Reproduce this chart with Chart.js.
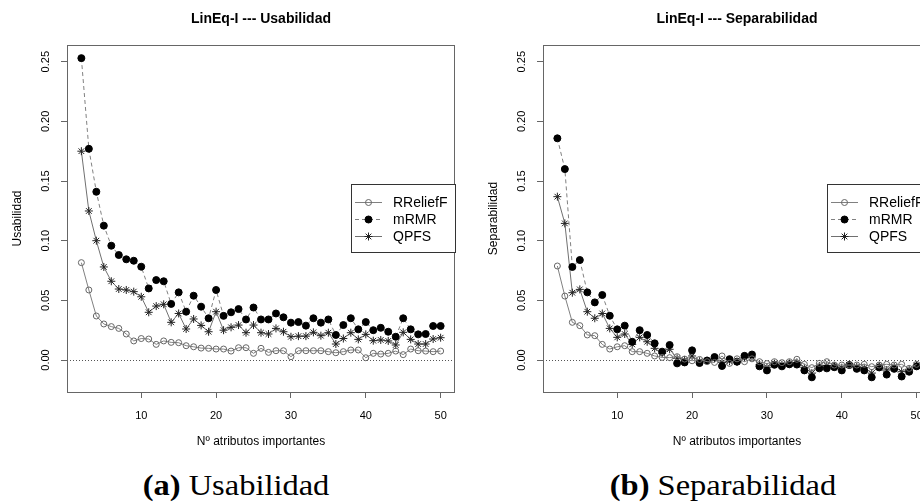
<!DOCTYPE html>
<html>
<head>
<meta charset="utf-8">
<script src="https://cdn.jsdelivr.net/npm/chart.js@4.4.0/dist/chart.umd.min.js"></script>
<style>
html, body { margin: 0; padding: 0; background: #fff; }
#wrap { position: relative; width: 920px; height: 504px; overflow: hidden; }
canvas { position: absolute; top: 0; }
#c1 { left: 0; }
#c2 { left: 476px; }
.cap { position: absolute; top: 471px; font-family: "Liberation Serif", serif; font-size: 29px; line-height: 29px;
       white-space: nowrap; color: #000; transform: translateX(-50%) scaleX(1.12); }
</style>
</head>
<body>
<div id="wrap">
  <canvas id="c1" width="476" height="460"></canvas>
  <canvas id="c2" width="476" height="460"></canvas>
  <div class="cap" style="left:236px"><b>(a)</b> Usabilidad</div>
  <div class="cap" style="left:723px"><b>(b)</b> Separabilidad</div>
</div>
<script>
// numero de atributos importantes
const xs = [2, 3, 4, 5, 6, 7, 8, 9, 10, 11, 12, 13, 14, 15, 16, 17, 18, 19, 20, 21, 22, 23, 24, 25, 26,
            27, 28, 29, 30, 31, 32, 33, 34, 35, 36, 37, 38, 39, 40, 41, 42, 43, 44, 45, 46, 47, 48, 49, 50];

const seriesNames = ['RReliefF', 'mRMR', 'QPFS'];
const xTicks = [10, 20, 30, 40, 50];
const yTicks = [0, 0.05, 0.10, 0.15, 0.20, 0.25];
const yTickLabels = ['0.00', '0.05', '0.10', '0.15', '0.20', '0.25'];

// (a) Usabilidad
const usaRRelief = [0.0816, 0.0587, 0.0369, 0.0302, 0.0280, 0.0265, 0.0218, 0.0160, 0.0180, 0.0176,
  0.0131, 0.0160, 0.0148, 0.0145, 0.0120, 0.0111, 0.0100, 0.0098, 0.0092, 0.0092, 0.0075, 0.0103,
  0.0103, 0.0056, 0.0098, 0.0064, 0.0078, 0.0078, 0.0028, 0.0078, 0.0078, 0.0078, 0.0078, 0.0070,
  0.0061, 0.0070, 0.0084, 0.0084, 0.0019, 0.0056, 0.0050, 0.0056, 0.0075, 0.0045, 0.0092, 0.0078,
  0.0075, 0.0070, 0.0075];
const usaMRMR = [0.253, 0.177, 0.141, 0.1126, 0.0958, 0.0880, 0.0844, 0.0832, 0.0782, 0.0600,
  0.0670, 0.0660, 0.0470, 0.0567, 0.0405, 0.0539, 0.0447, 0.0350, 0.0587, 0.0370, 0.0400, 0.0427,
  0.0340, 0.0440, 0.0340, 0.0340, 0.0390, 0.0358, 0.0313, 0.0318, 0.0288, 0.0350, 0.0313, 0.0340,
  0.0210, 0.0293, 0.0350, 0.0257, 0.0318, 0.0250, 0.0270, 0.0237, 0.0195, 0.0350, 0.0257, 0.0215,
  0.0218, 0.0285, 0.0285];
const usaQPFS = [0.175, 0.1249, 0.1000, 0.0780, 0.0660, 0.0595, 0.0587, 0.0573, 0.0530, 0.0400,
  0.0452, 0.0467, 0.0316, 0.0390, 0.0260, 0.0344, 0.0290, 0.0237, 0.0405, 0.0250, 0.0274, 0.0293,
  0.0229, 0.0293, 0.0229, 0.0218, 0.0265, 0.0237, 0.0195, 0.0200, 0.0200, 0.0232, 0.0204, 0.0229,
  0.0134, 0.0180, 0.0229, 0.0173, 0.0215, 0.0162, 0.0168, 0.0160, 0.0126, 0.0232, 0.0173, 0.0134,
  0.0134, 0.0176, 0.0187];

// (b) Separabilidad
const sepRRelief = [0.0788, 0.0536, 0.0316, 0.0288, 0.0210, 0.0204, 0.0131, 0.0092, 0.0111, 0.0120,
  0.0070, 0.0070, 0.0056, 0.0034, 0.0022, 0.0020, 0.0028, 0.0008, -0.0006, 0.0005, -0.0014, -0.0020,
  0.0034, -0.0028, 0.0010, -0.0014, 0.0010, -0.0014, -0.0030, -0.0014, -0.0022, -0.0014, 0.0006,
  -0.0036, -0.0064, -0.0028, -0.0014, -0.0042, -0.0042, -0.0042, -0.0042, -0.0036, -0.0056, -0.0042,
  -0.0036, -0.0042, -0.0036, -0.0070, -0.0036];
const sepMRMR = [0.1858, 0.1600, 0.0780, 0.0838, 0.0567, 0.0483, 0.0545, 0.0371, 0.0257, 0.0288,
  0.0153, 0.0250, 0.0210, 0.0140, 0.0070, 0.0126, -0.0028, -0.0020, 0.0081, -0.0025, -0.0004, 0.0025,
  -0.0050, 0.0007, -0.0014, 0.0035, 0.0046, -0.0053, -0.0087, -0.0040, -0.0053, -0.0036, -0.0038,
  -0.0087, -0.0145, -0.0070, -0.0070, -0.0060, -0.0087, -0.0042, -0.0074, -0.0087, -0.0145, -0.0062,
  -0.0122, -0.0074, -0.0138, -0.0098, -0.0053];
const sepQPFS = [0.1369, 0.1145, 0.0564, 0.0592, 0.0405, 0.0350, 0.0390, 0.0265, 0.0190, 0.0218,
  0.0131, 0.0190, 0.0153, 0.0098, 0.0056, 0.0090, 0.0014, 0.0000, 0.0034, -0.0010, -0.0008, 0.0014,
  -0.0020, -0.0010, -0.0014, 0.0020, 0.0025, -0.0040, -0.0060, -0.0030, -0.0040, -0.0028, -0.0020,
  -0.0064, -0.0110, -0.0050, -0.0045, -0.0050, -0.0064, -0.0040, -0.0056, -0.0064, -0.0110, -0.0050,
  -0.0084, -0.0056, -0.0098, -0.0080, -0.0045];

const SANS = '"Liberation Sans", Arial, sans-serif';

function pts(vals) {
  return xs.map((x, i) => ({ x: x, y: vals[i] }));
}

function drawMarker(ctx, ds, x, y) {
  ctx.save();
  ctx.lineWidth = ds.pointBorderWidth;
  ctx.strokeStyle = ds.pointBorderColor;
  ctx.fillStyle = ds.pointBackgroundColor;
  const r = ds.pointRadius;
  ctx.beginPath();
  if (ds.pointStyle === 'star') {
    const d = r * Math.SQRT1_2;
    ctx.moveTo(x - r, y); ctx.lineTo(x + r, y);
    ctx.moveTo(x, y - r); ctx.lineTo(x, y + r);
    ctx.moveTo(x - d, y - d); ctx.lineTo(x + d, y + d);
    ctx.moveTo(x - d, y + d); ctx.lineTo(x + d, y - d);
    ctx.stroke();
  } else {
    ctx.arc(x, y, r, 0, Math.PI * 2);
    ctx.fill();
    ctx.stroke();
  }
  ctx.restore();
}

const decor = {
  id: 'decor',
  beforeDatasetsDraw(chart) {
    const ctx = chart.ctx, a = chart.chartArea;
    const y0 = Math.round(chart.scales.y.getPixelForValue(0)) + 0.5;
    ctx.save();
    ctx.strokeStyle = '#555';
    ctx.lineWidth = 1;
    ctx.setLineDash([1, 2]);
    ctx.beginPath();
    ctx.moveTo(a.left, y0);
    ctx.lineTo(a.right, y0);
    ctx.stroke();
    ctx.restore();
  },
  afterDraw(chart, args, opts) {
    const ctx = chart.ctx, a = chart.chartArea;
    const ys = chart.scales.y;
    ctx.save();
    // caja
    ctx.strokeStyle = '#666';
    ctx.lineWidth = 1;
    ctx.strokeRect(a.left + 0.5, a.top + 0.5, a.right - a.left - 1, a.bottom - a.top);
    // titulo
    ctx.fillStyle = '#000';
    ctx.font = 'bold 14px ' + SANS;
    ctx.textAlign = 'center';
    ctx.textBaseline = 'alphabetic';
    ctx.fillText(opts.title, (a.left + a.right) / 2, 23);
    // etiqueta eje x
    ctx.font = '12px ' + SANS;
    ctx.fillText('Nº atributos importantes', (a.left + a.right) / 2, 445);
    // etiquetas eje y (giradas, como en R)
    ctx.font = '11px ' + SANS;
    ctx.textBaseline = 'middle';
    yTicks.forEach((v, i) => {
      const py = ys.getPixelForValue(v);
      ctx.save();
      ctx.translate(46, py);
      ctx.rotate(-Math.PI / 2);
      ctx.fillText(yTickLabels[i], 0, 0);
      ctx.restore();
    });
    ctx.font = '12px ' + SANS;
    ctx.save();
    ctx.translate(18, (a.top + a.bottom) / 2);
    ctx.rotate(-Math.PI / 2);
    ctx.fillText(opts.yLabel, 0, 0);
    ctx.restore();
    // leyenda
    const bx = a.right - 104, by = 184, bw = 104, bh = 68;
    ctx.fillStyle = '#fff';
    ctx.fillRect(bx, by, bw, bh);
    ctx.strokeStyle = '#333';
    ctx.strokeRect(bx + 0.5, by + 0.5, bw, bh);
    chart.data.datasets.forEach((ds, i) => {
      const ly = by + 18 + i * 17;
      ctx.save();
      ctx.strokeStyle = ds.borderColor;
      ctx.lineWidth = ds.borderWidth;
      ctx.setLineDash(ds.borderDash || []);
      ctx.beginPath();
      ctx.moveTo(bx + 4, ly + 0.5);
      ctx.lineTo(bx + 31, ly + 0.5);
      ctx.stroke();
      ctx.restore();
      drawMarker(ctx, ds, bx + 17.5, ly + 0.5);
      ctx.fillStyle = '#000';
      ctx.font = '14px ' + SANS;
      ctx.textAlign = 'left';
      ctx.textBaseline = 'middle';
      ctx.fillText(ds.label, bx + 42, ly + 1);
    });
    ctx.restore();
  }
};

function makePanel(id, title, yLabel, rr, mr, qp) {
  return new Chart(document.getElementById(id), {
    type: 'line',
    data: {
      datasets: [
        { label: seriesNames[0], data: pts(rr), borderColor: '#808080', borderWidth: 1,
          pointStyle: 'circle', pointRadius: 3, pointBorderWidth: 1,
          pointBorderColor: '#666', pointBackgroundColor: 'rgba(255,255,255,0)', tension: 0 },
        { label: seriesNames[1], data: pts(mr), borderColor: '#808080', borderWidth: 1, borderDash: [4, 3],
          pointStyle: 'circle', pointRadius: 3.5, pointBorderWidth: 1,
          pointBorderColor: '#000', pointBackgroundColor: '#000', tension: 0 },
        { label: seriesNames[2], data: pts(qp), borderColor: '#707070', borderWidth: 1,
          pointStyle: 'star', pointRadius: 4, pointBorderWidth: 1,
          pointBorderColor: '#222', pointBackgroundColor: '#222', tension: 0 }
      ]
    },
    options: {
      responsive: false,
      animation: false,
      devicePixelRatio: 1,
      events: [],
      layout: { padding: { left: 0, right: 21, top: 45, bottom: 0 } },
      plugins: {
        legend: { display: false },
        tooltip: { enabled: false },
        decor: { title: title, yLabel: yLabel }
      },
      scales: {
        x: {
          type: 'linear', min: 0.08, max: 51.92,
          afterBuildTicks: s => { s.ticks = xTicks.map(v => ({ value: v })); },
          afterFit: s => { s.height = 68; },
          border: { display: false },
          grid: { display: true, drawOnChartArea: false, drawTicks: true, tickLength: 6, color: '#666' },
          ticks: { font: { family: SANS, size: 11 }, color: '#000', padding: 11, maxRotation: 0 }
        },
        y: {
          type: 'linear', min: -0.0268, max: 0.264,
          afterBuildTicks: s => { s.ticks = yTicks.map(v => ({ value: v })); },
          afterFit: s => { s.width = 67; },
          border: { display: false },
          grid: { display: true, drawOnChartArea: false, drawTicks: true, tickLength: 6, color: '#666' },
          ticks: { display: false }
        }
      }
    },
    plugins: [decor]
  });
}

makePanel('c1', 'LinEq-I --- Usabilidad', 'Usabilidad', usaRRelief, usaMRMR, usaQPFS);
makePanel('c2', 'LinEq-I --- Separabilidad', 'Separabilidad', sepRRelief, sepMRMR, sepQPFS);
</script>
</body>
</html>
